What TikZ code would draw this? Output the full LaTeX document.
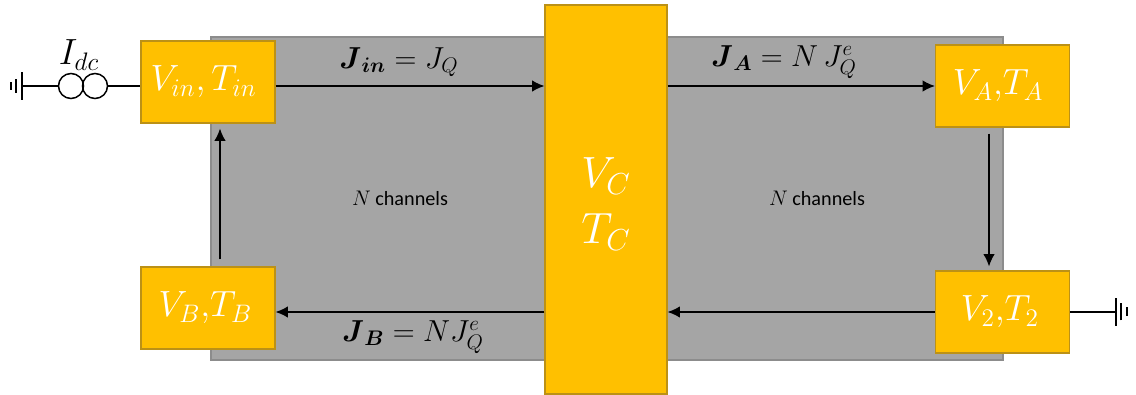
\documentclass[tikz,border=0pt]{standalone}
\usepackage{amsmath}
\usepackage{amssymb}
\usepackage[no-math]{fontspec}
\setmainfont{Carlito}
\usetikzlibrary{arrows.meta,positioning}
\definecolor{ChipAmber}{HTML}{FFC000}
\definecolor{ChipEdge}{HTML}{BC9116}
\definecolor{PlaneGrey}{HTML}{A5A5A5}
\definecolor{PlaneEdge}{HTML}{8C8C8C}
\newcommand{\mb}{\boldsymbol}
\tikzset{
  terminal/.style={draw=ChipEdge, fill=ChipAmber, line width=0.6pt, text=white, inner sep=0pt,
    minimum width=2.68cm, minimum height=1.64cm, font=\fontsize{20}{24}\selectfont},
  flow/.style={black, line width=0.85pt, -{Latex[length=7pt,width=6.5pt]}},
  wire/.style={black, line width=0.85pt},
  flux/.style={font=\fontsize{18}{22}\selectfont, inner sep=0pt},
  note/.style={font=\fontsize{11.5}{14}\selectfont, inner sep=0pt}
}
\begin{document}
\begin{tikzpicture}
  \useasboundingbox (0,0) rectangle (22.72,7.88);
  % channel plane
  \fill[PlaneGrey, draw=PlaneEdge, line width=0.6pt] (4.22,0.68) rectangle (20.06,7.14);
  % central terminal
  \node[terminal, minimum width=2.44cm, minimum height=7.78cm] (VC) at (12.12,3.89) {};
  \node[text=white, inner sep=0pt, font=\fontsize{23}{27}\selectfont] (VCtext) at (12.12,4.36) {$V_C$};
  \node[text=white, inner sep=0pt, font=\fontsize{23}{27}\selectfont] (TCtext) at (12.12,3.24) {$T_C$};
  % outer terminals
  \node[terminal] (Vin) at (4.16,6.24) {$V_{in},T_{in}\kern 5pt$};
  \node[terminal] (VA) at (20.05,6.16) {$V_A,\!T_A\kern 5pt$};
  \node[terminal] (V2) at (20.05,1.64) {$V_2,\!T_2\kern 3pt$};
  \node[terminal] (VB) at (4.16,1.72) {$V_B,\!T_B\kern 3pt$};
  % heat currents
  \draw[flow] ([yshift=-0.08cm]Vin.east) -- ([yshift=-0.08cm]Vin.east -| VC.west);
  \draw[flow] (VA.west -| VC.east) -- (VA.west);
  \draw[flow] (V2.west) -- (V2.west -| VC.east);
  \draw[flow] (V2.west -| VC.west) -- (V2.west -| VB.east);
  \draw[flow] ([xshift=-0.27cm,yshift=-0.12cm]VA.south) -- ([xshift=-0.27cm,yshift=0.08cm]V2.north);
  \draw[flow] ([xshift=0.24cm,yshift=0.14cm]VB.north) -- ([xshift=0.24cm,yshift=-0.10cm]Vin.south);
  % labels
  \node[flux] (Jin) at (7.98,6.64) {$\mb{J}_{\mb{in}}=J_Q$};
  \node[flux] (JA) at (15.68,6.64) {$\mb{J}_{\mb{A}}=N\,J_Q^e$};
  \node[flux] (JB) at (8.26,1.14) {$\mb{J}_{\mb{B}}=NJ_Q^e$};
  \node[note] (chanL) at (8,3.92) {$N$ channels};
  \node[note] (chanR) at (16.34,3.92) {$N$ channels};
  % current source
  \node[draw=black, circle, line width=0.85pt, minimum size=0.5cm, inner sep=0pt] (srcA) at (1.42,6.16) {};
  \node[draw=black, circle, line width=0.85pt, minimum size=0.5cm, inner sep=0pt] (srcB) at (1.90,6.16) {};
  \node[font=\fontsize{22}{26}\selectfont, inner sep=0pt] (Idc) at (1.58,6.78) {$I_{dc}$};
  \draw[wire] (srcB.east) -- (srcB.east -| Vin.west);
  % left ground
  \coordinate (gndL) at (0.44,6.16);
  \draw[wire] (gndL) -- (srcA.west);
  \draw[wire] (0.44,5.88) -- (0.44,6.44);
  \draw[wire] (0.32,6.02) -- (0.32,6.30);
  \draw[wire] (0.22,6.08) -- (0.22,6.24);
  % right ground
  \coordinate (gndR) at (22.32,1.64);
  \draw[wire] (V2.east) -- (gndR);
  \draw[wire] (22.32,1.36) -- (22.32,1.92);
  \draw[wire] (22.42,1.47) -- (22.42,1.81);
  \draw[wire] (22.54,1.56) -- (22.54,1.74);
\end{tikzpicture}
\end{document}
